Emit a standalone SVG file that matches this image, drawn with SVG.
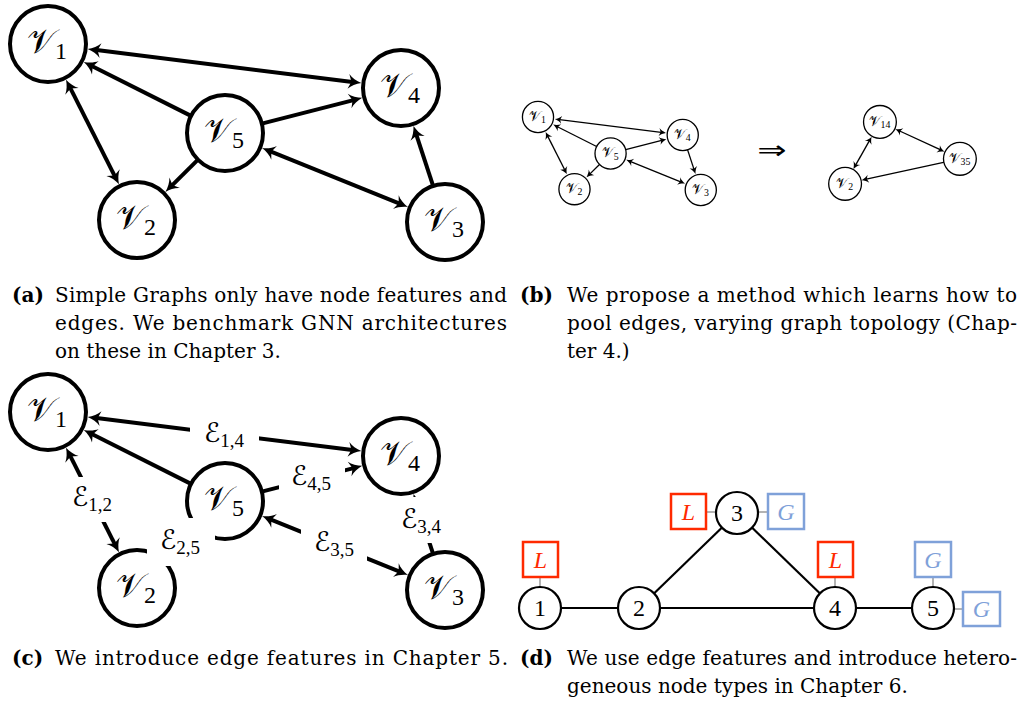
<svg xmlns="http://www.w3.org/2000/svg" width="1027" height="704" viewBox="0 0 1027 704">
  <style>
    .bg { fill: #ffffff; }
    .edge { stroke: #000; stroke-width: 4; fill: none; }
    .nd { fill: #fff; stroke: #000; stroke-width: 4; }
    .small .edge, .small .nd { stroke-width: 3.2; }
    .cal { font-family: "DejaVu Serif", "DejaVu Sans", "Noto Sans", serif; }
    .vl { font-size: 34px; }
    .vs { font-family: "Liberation Serif", serif; font-size: 24px; }
    .el { font-size: 27px; }
    .es { font-family: "Liberation Serif", serif; font-size: 19px; }
    .lblbox { fill: #fff; stroke: none; }
    .cap { font-family: "DejaVu Serif", serif; font-size: 20px; fill: #000; }
    .capb { font-family: "DejaVu Serif", serif; font-size: 20px; font-weight: bold; fill: #000; }
    .tn { fill: #fff; stroke: #000; stroke-width: 2.2; }
    .tl { stroke: #000; stroke-width: 2.2; }
    .tnum { font-family: "Liberation Serif", serif; font-size: 24px; text-anchor: middle; }
    .pin { stroke: #b3b3b3; stroke-width: 2; }
    .boxL { fill: #fff; stroke: #ff2a00; stroke-width: 2.5; }
    .boxG { fill: #fff; stroke: #7fa1d9; stroke-width: 2.5; }
    .tL { font-family: "Liberation Serif", serif; font-style: italic; font-size: 24px; fill: #ff2a00; text-anchor: middle; }
    .tG { font-family: "Liberation Serif", serif; font-style: italic; font-size: 24px; fill: #7fa1d9; text-anchor: middle; }
  </style>
  <defs>
    <marker id="ah" markerUnits="userSpaceOnUse" viewBox="-15 -15 30 30" markerWidth="30" markerHeight="30" refX="0" refY="0" orient="auto-start-reverse">
      <path d="M9,0 C4,1.5 -1,4 -4,7.5 L-1,0 L-4,-7.5 C-1,-4 4,-1.5 9,0Z" fill="#000"/>
    </marker>
    <marker id="ahb" markerUnits="userSpaceOnUse" viewBox="-20 -20 40 40" markerWidth="40" markerHeight="40" refX="0" refY="0" orient="auto-start-reverse">
      <path d="M11.7,0 C5.2,2 -1.3,5.2 -5.2,9.75 L-1.3,0 L-5.2,-9.75 C-1.3,-5.2 5.2,-2 11.7,0Z" fill="#000"/>
    </marker>
  </defs>

  <rect class="bg" x="0" y="0" width="1027" height="704"/>

  <!-- (a) simple graph -->
  <g id="panel-a">
    <g id="a-edges">
      <line class="edge" x1="96.6" y1="50.1" x2="352.4" y2="81.9" marker-start="url(#ah)" marker-end="url(#ah)"/>
      <line class="edge" x1="191.0" y1="115.9" x2="91.8" y2="66.0" marker-end="url(#ah)"/>
      <line class="edge" x1="70.1" y1="87.7" x2="114.9" y2="176.3" marker-start="url(#ah)" marker-end="url(#ah)"/>
      <line class="edge" x1="198.0" y1="159.7" x2="171.8" y2="185.6" marker-end="url(#ah)"/>
      <line class="edge" x1="261.8" y1="123.6" x2="353.5" y2="100.1" marker-end="url(#ah)"/>
      <line class="edge" x1="270.4" y1="151.4" x2="399.6" y2="203.6" marker-start="url(#ah)" marker-end="url(#ah)"/>
      <line class="edge" x1="433.1" y1="185.9" x2="416.3" y2="134.6" marker-end="url(#ah)"/>
    </g>
    <g id="a-v1"><circle class="nd" cx="48" cy="44" r="38"/><text x="47" y="53" text-anchor="middle"><tspan class="cal vl">𝒱</tspan><tspan class="vs" dy="6">1</tspan></text></g>
    <g id="a-v2"><circle class="nd" cx="137" cy="220" r="38"/><text x="136" y="229" text-anchor="middle"><tspan class="cal vl">𝒱</tspan><tspan class="vs" dy="6">2</tspan></text></g>
    <g id="a-v3"><circle class="nd" cx="445" cy="222" r="38"/><text x="444" y="231" text-anchor="middle"><tspan class="cal vl">𝒱</tspan><tspan class="vs" dy="6">3</tspan></text></g>
    <g id="a-v4"><circle class="nd" cx="401" cy="88" r="38"/><text x="400" y="97" text-anchor="middle"><tspan class="cal vl">𝒱</tspan><tspan class="vs" dy="6">4</tspan></text></g>
    <g id="a-v5"><circle class="nd" cx="225" cy="133" r="38"/><text x="224" y="142" text-anchor="middle"><tspan class="cal vl">𝒱</tspan><tspan class="vs" dy="6">5</tspan></text></g>
  </g>

  <!-- (b) pooling example, drawn at reduced scale -->
  <g id="panel-b" class="small" transform="translate(518.32,98.96) scale(0.41)">
    <g id="b-edges">
      <line class="edge" x1="100.6" y1="50.6" x2="348.4" y2="81.4" marker-start="url(#ahb)" marker-end="url(#ahb)"/>
      <line class="edge" x1="191.0" y1="115.9" x2="95.4" y2="67.8" marker-end="url(#ahb)"/>
      <line class="edge" x1="71.9" y1="91.3" x2="113.1" y2="172.7" marker-start="url(#ahb)" marker-end="url(#ahb)"/>
      <line class="edge" x1="198.0" y1="159.7" x2="174.7" y2="182.7" marker-end="url(#ahb)"/>
      <line class="edge" x1="261.8" y1="123.6" x2="349.7" y2="101.1" marker-end="url(#ahb)"/>
      <line class="edge" x1="274.1" y1="152.9" x2="395.9" y2="202.1" marker-start="url(#ahb)" marker-end="url(#ahb)"/>
      <line class="edge" x1="412.9" y1="124.1" x2="428.5" y2="171.7" marker-end="url(#ahb)"/>
      <line class="edge" x1="930.1" y1="78.2" x2="1028.9" y2="123.8" marker-start="url(#ahb)" marker-end="url(#ahb)"/>
      <line class="edge" x1="856.0" y1="102.2" x2="823.0" y2="160.8" marker-start="url(#ahb)" marker-end="url(#ahb)"/>
      <line class="edge" x1="1039.9" y1="154.1" x2="848.8" y2="195.7" marker-end="url(#ahb)"/>
    </g>
    <g id="b-v1"><circle class="nd" cx="48" cy="44" r="38"/><text x="47" y="53" text-anchor="middle"><tspan class="cal vl">𝒱</tspan><tspan class="vs" dy="6">1</tspan></text></g>
    <g id="b-v2"><circle class="nd" cx="137" cy="220" r="38"/><text x="136" y="229" text-anchor="middle"><tspan class="cal vl">𝒱</tspan><tspan class="vs" dy="6">2</tspan></text></g>
    <g id="b-v3"><circle class="nd" cx="445" cy="222" r="38"/><text x="444" y="231" text-anchor="middle"><tspan class="cal vl">𝒱</tspan><tspan class="vs" dy="6">3</tspan></text></g>
    <g id="b-v4"><circle class="nd" cx="401" cy="88" r="38"/><text x="400" y="97" text-anchor="middle"><tspan class="cal vl">𝒱</tspan><tspan class="vs" dy="6">4</tspan></text></g>
    <g id="b-v5"><circle class="nd" cx="225" cy="133" r="38"/><text x="224" y="142" text-anchor="middle"><tspan class="cal vl">𝒱</tspan><tspan class="vs" dy="6">5</tspan></text></g>
    <g id="b-v14"><circle class="nd" cx="882" cy="56" r="40"/><text x="881" y="65" text-anchor="middle"><tspan class="cal vl">𝒱</tspan><tspan class="vs" dy="6">14</tspan></text></g>
    <g id="b-v35"><circle class="nd" cx="1077" cy="146" r="40"/><text x="1076" y="155" text-anchor="middle"><tspan class="cal vl">𝒱</tspan><tspan class="vs" dy="6">35</tspan></text></g>
    <g id="b-v2p"><circle class="nd" cx="797" cy="207" r="40"/><text x="796" y="216" text-anchor="middle"><tspan class="cal vl">𝒱</tspan><tspan class="vs" dy="6">2</tspan></text></g>
  </g>
  <text id="b-implies" x="0" y="0" text-anchor="middle" font-family="DejaVu Sans, sans-serif" font-size="26" transform="translate(772,159) scale(1.35,1)">⇒</text>

  <!-- (c) graph with edge features -->
  <g id="panel-c" transform="translate(0,368)">
    <g id="c-edges">
      <line class="edge" x1="96.6" y1="50.1" x2="352.4" y2="81.9" marker-start="url(#ah)" marker-end="url(#ah)"/>
      <line class="edge" x1="191.0" y1="115.9" x2="91.8" y2="66.0" marker-end="url(#ah)"/>
      <line class="edge" x1="70.1" y1="87.7" x2="114.9" y2="176.3" marker-start="url(#ah)" marker-end="url(#ah)"/>
      <line class="edge" x1="198.0" y1="159.7" x2="171.8" y2="185.6" marker-end="url(#ah)"/>
      <line class="edge" x1="261.8" y1="123.6" x2="353.5" y2="100.1" marker-end="url(#ah)"/>
      <line class="edge" x1="270.4" y1="151.4" x2="399.6" y2="203.6" marker-start="url(#ah)" marker-end="url(#ah)"/>
      <line class="edge" x1="433.1" y1="185.9" x2="416.3" y2="134.6" marker-end="url(#ah)"/>
    </g>
    <g id="c-v1"><circle class="nd" cx="48" cy="44" r="38"/><text x="47" y="53" text-anchor="middle"><tspan class="cal vl">𝒱</tspan><tspan class="vs" dy="6">1</tspan></text></g>
    <g id="c-v2"><circle class="nd" cx="137" cy="220" r="38"/><text x="136" y="229" text-anchor="middle"><tspan class="cal vl">𝒱</tspan><tspan class="vs" dy="6">2</tspan></text></g>
    <g id="c-v3"><circle class="nd" cx="445" cy="222" r="38"/><text x="444" y="231" text-anchor="middle"><tspan class="cal vl">𝒱</tspan><tspan class="vs" dy="6">3</tspan></text></g>
    <g id="c-v4"><circle class="nd" cx="401" cy="88" r="38"/><text x="400" y="97" text-anchor="middle"><tspan class="cal vl">𝒱</tspan><tspan class="vs" dy="6">4</tspan></text></g>
    <g id="c-v5"><circle class="nd" cx="225" cy="133" r="38"/><text x="224" y="142" text-anchor="middle"><tspan class="cal vl">𝒱</tspan><tspan class="vs" dy="6">5</tspan></text></g>
    <!-- edge feature labels sit on opaque boxes over the edges -->
    <g id="c-e14"><rect class="lblbox" x="190" y="45" width="69" height="45"/><text x="224" y="74" text-anchor="middle"><tspan class="cal el">ℰ</tspan><tspan class="es" dy="5">1,4</tspan></text></g>
    <g id="c-e12"><rect class="lblbox" x="59" y="109" width="66" height="45"/><text x="92" y="138" text-anchor="middle"><tspan class="cal el">ℰ</tspan><tspan class="es" dy="5">1,2</tspan></text></g>
    <g id="c-e25"><rect class="lblbox" x="147" y="150" width="68" height="48"/><text x="180" y="181" text-anchor="middle"><tspan class="cal el">ℰ</tspan><tspan class="es" dy="5">2,5</tspan></text></g>
    <g id="c-e45"><rect class="lblbox" x="279" y="87" width="66" height="44"/><text x="311" y="117" text-anchor="middle"><tspan class="cal el">ℰ</tspan><tspan class="es" dy="5">4,5</tspan></text></g>
    <g id="c-e35"><rect class="lblbox" x="301" y="153" width="66" height="44"/><text x="334" y="183" text-anchor="middle"><tspan class="cal el">ℰ</tspan><tspan class="es" dy="5">3,5</tspan></text></g>
    <g id="c-e34"><rect class="lblbox" x="389" y="129" width="65" height="46"/><text x="421" y="160" text-anchor="middle"><tspan class="cal el">ℰ</tspan><tspan class="es" dy="5">3,4</tspan></text></g>
  </g>

  <!-- (d) heterogeneous graph -->
  <g id="panel-d">
    <g id="d-edges">
      <line class="tl" x1="540" y1="608" x2="639" y2="608"/>
      <line class="tl" x1="639" y1="608" x2="835" y2="608"/>
      <line class="tl" x1="835" y1="608" x2="933" y2="608"/>
      <line class="tl" x1="639" y1="608" x2="737" y2="513"/>
      <line class="tl" x1="737" y1="513" x2="835" y2="608"/>
      <line class="pin" x1="540" y1="578" x2="540" y2="587"/>
      <line class="pin" x1="706" y1="512" x2="716" y2="512"/>
      <line class="pin" x1="758" y1="512" x2="768" y2="512"/>
      <line class="pin" x1="835" y1="578" x2="835" y2="587"/>
      <line class="pin" x1="933" y1="578" x2="933" y2="587"/>
      <line class="pin" x1="954" y1="609" x2="963" y2="609"/>
    </g>
    <g id="d-n1"><circle class="tn" cx="540" cy="608" r="21"/><text class="tnum" x="540" y="616">1</text></g>
    <g id="d-n2"><circle class="tn" cx="639" cy="608" r="21"/><text class="tnum" x="639" y="616">2</text></g>
    <g id="d-n3"><circle class="tn" cx="737" cy="513" r="21"/><text class="tnum" x="737" y="521">3</text></g>
    <g id="d-n4"><circle class="tn" cx="835" cy="608" r="21"/><text class="tnum" x="835" y="616">4</text></g>
    <g id="d-n5"><circle class="tn" cx="933" cy="608" r="21"/><text class="tnum" x="933" y="616">5</text></g>
    <g id="d-l1"><rect class="boxL" x="523" y="542" width="35" height="35"/><text class="tL" x="540.5" y="568">L</text></g>
    <g id="d-l3"><rect class="boxL" x="671" y="494" width="35" height="35"/><text class="tL" x="688.5" y="520">L</text></g>
    <g id="d-g3"><rect class="boxG" x="768" y="494" width="36" height="35"/><text class="tG" x="786" y="520">G</text></g>
    <g id="d-l4"><rect class="boxL" x="818" y="542" width="35" height="35"/><text class="tL" x="835.5" y="568">L</text></g>
    <g id="d-g5a"><rect class="boxG" x="915" y="542" width="36" height="35"/><text class="tG" x="933" y="568">G</text></g>
    <g id="d-g5b"><rect class="boxG" x="963" y="592" width="37" height="34"/><text class="tG" x="981.5" y="617">G</text></g>
  </g>

  <!-- captions: justified lines are stretched to the column width -->
  <g id="captions">
    <text class="capb" x="12" y="302">(a)</text>
    <text class="cap" x="55" y="302" textLength="452">Simple Graphs only have node features and</text>
    <text class="cap" x="55" y="330" textLength="452">edges.  We benchmark GNN architectures</text>
    <text class="cap" x="55" y="358">on these in Chapter 3.</text>
    <text class="capb" x="520" y="302">(b)</text>
    <text class="cap" x="567" y="302" textLength="450">We propose a method which learns how to</text>
    <text class="cap" x="567" y="330" textLength="450">pool edges, varying graph topology (Chap-</text>
    <text class="cap" x="567" y="358">ter 4.)</text>
    <text class="capb" x="12" y="665">(c)</text>
    <text class="cap" x="55" y="665" textLength="453">We introduce edge features in Chapter 5.</text>
    <text class="capb" x="520" y="665">(d)</text>
    <text class="cap" x="567" y="665" textLength="450">We use edge features and introduce hetero-</text>
    <text class="cap" x="567" y="693">geneous node types in Chapter 6.</text>
  </g>
</svg>
